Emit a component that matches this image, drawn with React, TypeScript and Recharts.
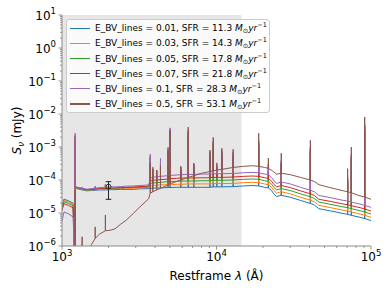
import React from 'react';
import { ComposedChart, Line, Scatter, ErrorBar, XAxis, YAxis, ReferenceArea } from 'recharts';

// rest-frame wavelength grid (Å) shared by every model spectrum
const waveGrid = [
  1000, 1030, 1100, 1180, 1210, 1216, 1225, 1260, 1350, 1450,
  1550, 1640, 1750, 1909, 2050, 2200, 2400, 2600, 2900, 3200,
  3640, 3727, 3869, 4101, 4340, 4861, 5007, 5500, 5876, 6563,
  7136, 8000, 9069, 9531, 10050, 10830, 12820, 15000, 17000, 18750,
  20500, 21660, 22800, 23500, 24500, 26250, 30000, 35000, 40500, 43000,
  46000, 55000, 65000, 70600, 74600, 85000, 91000, 100000,
];

// emission lines (Å), each one also a point of waveGrid
const lineWaves = [
  1216, 1350, 1640, 1909, 3727, 3869, 4101, 4340, 4861, 5007, 5876, 6563, 7136,
  9069, 9531, 10050, 10830, 12820, 18750, 21660, 26250, 40500, 70600, 74600, 91000,
];

// continuum flux (mJy) on waveGrid
const contBlue = [
  1.66e-5, 2.63e-5, 2.34e-5, 2.0e-5, 3e-7, 5.6e-5, 5.6e-5, 5.4e-5, 5.0e-5, 4.7e-5,
  4.8e-5, 4.9e-5, 5.0e-5, 5.0e-5, 5.1e-5, 5.1e-5, 5.2e-5, 5.2e-5, 5.2e-5, 5.4e-5,
  5.5e-5, 5.6e-5, 5.6e-5, 5.75e-5, 5.75e-5, 5.9e-5, 5.9e-5, 6.0e-5, 6.0e-5, 6.0e-5,
  6.0e-5, 6.0e-5, 6.0e-5, 6.2e-5, 6.2e-5, 6.2e-5, 6.3e-5, 6.6e-5, 6.8e-5, 6.6e-5,
  6.0e-5, 5.75e-5, 4.7e-5, 3.8e-5, 3.15e-5, 3.45e-5, 3.0e-5, 2.4e-5, 1.95e-5, 1.74e-5,
  1.35e-5, 1.15e-5, 9.8e-6, 9.1e-6, 8.5e-6, 7.4e-6, 6.8e-6, 5.9e-6,
];
const contOrange = [
  1.51e-5, 2.4e-5, 2.14e-5, 1.82e-5, 3e-7, 5.9e-5, 5.9e-5, 5.6e-5, 5.25e-5, 4.9e-5,
  5.0e-5, 5.1e-5, 5.25e-5, 5.25e-5, 5.4e-5, 5.4e-5, 5.5e-5, 5.6e-5, 5.6e-5, 5.75e-5,
  5.9e-5, 6.6e-5, 6.8e-5, 6.9e-5, 7.1e-5, 7.2e-5, 7.2e-5, 7.4e-5, 7.4e-5, 7.6e-5,
  7.6e-5, 7.6e-5, 7.6e-5, 7.8e-5, 7.8e-5, 7.8e-5, 7.9e-5, 8.3e-5, 8.5e-5, 8.3e-5,
  7.6e-5, 7.2e-5, 5.9e-5, 4.8e-5, 4.0e-5, 4.4e-5, 3.8e-5, 3.0e-5, 2.45e-5, 2.2e-5,
  1.7e-5, 1.45e-5, 1.23e-5, 1.15e-5, 1.07e-5, 9.3e-6, 8.5e-6, 7.4e-6,
];
const contGreen = [
  1.38e-5, 2.19e-5, 1.95e-5, 1.66e-5, 3e-7, 6.0e-5, 6.0e-5, 5.75e-5, 5.4e-5, 5.0e-5,
  5.1e-5, 5.25e-5, 5.5e-5, 5.5e-5, 5.6e-5, 5.6e-5, 5.75e-5, 5.9e-5, 5.9e-5, 6.0e-5,
  6.2e-5, 7.9e-5, 8.1e-5, 8.3e-5, 8.5e-5, 8.9e-5, 8.9e-5, 9.1e-5, 9.3e-5, 9.3e-5,
  9.3e-5, 9.5e-5, 9.5e-5, 9.8e-5, 9.8e-5, 9.8e-5, 1.0e-4, 1.05e-4, 1.07e-4, 1.05e-4,
  9.5e-5, 9.1e-5, 7.4e-5, 6.0e-5, 5.0e-5, 5.5e-5, 4.8e-5, 3.8e-5, 3.1e-5, 2.75e-5,
  2.15e-5, 1.82e-5, 1.55e-5, 1.45e-5, 1.35e-5, 1.17e-5, 1.07e-5, 9.3e-6,
];
const contRed = [
  1.2e-5, 1.91e-5, 1.7e-5, 1.45e-5, 3e-7, 6.2e-5, 6.2e-5, 5.9e-5, 5.5e-5, 5.1e-5,
  5.25e-5, 5.4e-5, 5.6e-5, 5.6e-5, 5.75e-5, 5.75e-5, 5.9e-5, 6.0e-5, 6.2e-5, 6.3e-5,
  6.5e-5, 9.3e-5, 9.8e-5, 1.0e-4, 1.02e-4, 1.07e-4, 1.1e-4, 1.12e-4, 1.15e-4, 1.15e-4,
  1.15e-4, 1.17e-4, 1.17e-4, 1.2e-4, 1.2e-4, 1.2e-4, 1.23e-4, 1.29e-4, 1.32e-4, 1.29e-4,
  1.17e-4, 1.12e-4, 9.1e-5, 7.4e-5, 6.2e-5, 6.8e-5, 5.9e-5, 4.7e-5, 3.8e-5, 3.4e-5,
  2.6e-5, 2.24e-5, 1.9e-5, 1.78e-5, 1.66e-5, 1.45e-5, 1.32e-5, 1.15e-5,
];
const contPurple = [
  5.6e-6, 1.07e-5, 9.5e-6, 7.6e-6, 3e-7, 6.3e-5, 6.3e-5, 6.0e-5, 5.6e-5, 5.25e-5,
  5.5e-5, 5.6e-5, 5.9e-5, 6.0e-5, 6.2e-5, 6.2e-5, 6.3e-5, 6.5e-5, 6.6e-5, 6.8e-5,
  7.1e-5, 1.15e-4, 1.2e-4, 1.26e-4, 1.29e-4, 1.35e-4, 1.38e-4, 1.41e-4, 1.45e-4, 1.48e-4,
  1.48e-4, 1.51e-4, 1.51e-4, 1.55e-4, 1.55e-4, 1.55e-4, 1.58e-4, 1.66e-4, 1.7e-4, 1.66e-4,
  1.51e-4, 1.45e-4, 1.17e-4, 9.5e-5, 7.9e-5, 8.7e-5, 7.6e-5, 6.0e-5, 4.9e-5, 4.4e-5,
  3.4e-5, 2.9e-5, 2.45e-5, 2.3e-5, 2.14e-5, 1.86e-5, 1.7e-5, 1.48e-5,
];
const contBrown = [
  1e-9, 1e-9, 1e-9, 1e-9, 1e-9, 1e-8, 1e-8, 3e-8, 1.5e-7, 4.5e-7,
  1.1e-6, 1.7e-6, 2.3e-6, 2.9e-6, 3.0e-6, 3.3e-6, 4.6e-6, 6.0e-6, 9.8e-6, 1.55e-5,
  2.7e-5, 4.0e-5, 4.4e-5, 5.0e-5, 5.6e-5, 7.0e-5, 7.6e-5, 9.0e-5, 1.0e-4, 1.2e-4,
  1.35e-4, 1.6e-4, 1.8e-4, 1.9e-4, 2.0e-4, 2.1e-4, 2.4e-4, 2.6e-4, 2.7e-4, 2.6e-4,
  2.4e-4, 2.25e-4, 1.95e-4, 1.75e-4, 1.5e-4, 1.6e-4, 1.45e-4, 1.2e-4, 1.0e-4, 9.0e-5,
  7.2e-5, 5.8e-5, 4.8e-5, 4.4e-5, 4.1e-5, 3.3e-5, 3.05e-5, 2.6e-5,
];

// line peak flux (mJy) on lineWaves
const peakBlue = [1.6e-3, 5.2e-5, 5.2e-5, 5.5e-5, 3.6e-4, 1.5e-4, 1.2e-4, 2.7e-4, 6.0e-4, 2.3e-3, 1.5e-4, 2.0e-3, 1.9e-4, 4.3e-4, 9.6e-4, 1.7e-4, 4.7e-4, 4.3e-4, 9.6e-4, 1.9e-4, 2.4e-4, 6.0e-4, 7.6e-5, 3.8e-4, 3.0e-3];
const peakOrange = [1.8e-3, 5.4e-5, 5.5e-5, 6.0e-5, 4.2e-4, 1.8e-4, 1.4e-4, 3.2e-4, 7.0e-4, 2.7e-3, 1.8e-4, 2.3e-3, 2.2e-4, 5.0e-4, 1.1e-3, 2.0e-4, 5.5e-4, 5.0e-4, 1.1e-3, 2.2e-4, 2.8e-4, 7.0e-4, 9.0e-5, 4.4e-4, 3.5e-3];
const peakGreen = [2.0e-3, 5.6e-5, 5.9e-5, 6.5e-5, 4.8e-4, 2.0e-4, 1.6e-4, 3.6e-4, 8.0e-4, 3.0e-3, 2.0e-4, 2.6e-3, 2.5e-4, 5.6e-4, 1.3e-3, 2.2e-4, 6.3e-4, 5.6e-4, 1.3e-3, 2.5e-4, 3.2e-4, 8.0e-4, 1.0e-4, 5.0e-4, 4.0e-3];
const peakRed = [2.2e-3, 5.9e-5, 6.2e-5, 7.0e-5, 5.3e-4, 2.2e-4, 1.8e-4, 4.0e-4, 8.9e-4, 3.4e-3, 2.2e-4, 2.9e-3, 2.8e-4, 6.3e-4, 1.4e-3, 2.5e-4, 7.0e-4, 6.3e-4, 1.4e-3, 2.8e-4, 3.5e-4, 8.9e-4, 1.1e-4, 5.6e-4, 4.5e-3];
const peakPurple = [2.6e-3, 6.0e-5, 6.5e-5, 7.5e-5, 6.0e-4, 2.5e-4, 2.0e-4, 4.5e-4, 1.0e-3, 3.8e-3, 2.5e-4, 3.3e-3, 3.2e-4, 7.1e-4, 1.6e-3, 2.8e-4, 7.9e-4, 7.1e-4, 1.6e-3, 3.2e-4, 4.0e-4, 1.0e-3, 1.26e-4, 6.3e-4, 5.0e-3];
const peakBrown = [5e-5, 1.9e-6, 3.8e-6, 8.7e-6, 3.2e-4, 2.2e-4, 2.0e-4, 2.8e-4, 7.9e-4, 3.2e-3, 2.6e-4, 4.0e-3, 3.2e-4, 8.1e-4, 1.95e-3, 3.3e-4, 9.1e-4, 8.5e-4, 2.6e-3, 4.6e-4, 6.5e-4, 1.6e-3, 2.2e-4, 1.0e-3, 8.1e-3];

const ebvValues = ['0.01', '0.03', '0.05', '0.07', '0.1', '0.5'];
const sfrValues = ['11.3', '14.3', '17.8', '21.8', '28.3', '53.1'];
const colors = ['#1f77b4', '#ff7f0e', '#2ca02c', '#d62728', '#9467bd', '#8c564b'];

// observed photometric point with asymmetric error [down, up]
const obsPoint = [{ x: 2000, y: 6.3e-5, err: [3.7e-5, 2.6e-5] }];

const xTicks = [1000, 2000, 3000, 4000, 5000, 6000, 7000, 8000, 9000, 10000, 20000, 30000, 40000, 50000, 60000, 70000, 80000, 90000, 100000];
const yTicks = [
  1e-6, 2e-6, 3e-6, 4e-6, 5e-6, 6e-6, 7e-6, 8e-6, 9e-6,
  1e-5, 2e-5, 3e-5, 4e-5, 5e-5, 6e-5, 7e-5, 8e-5, 9e-5,
  1e-4, 2e-4, 3e-4, 4e-4, 5e-4, 6e-4, 7e-4, 8e-4, 9e-4,
  1e-3, 2e-3, 3e-3, 4e-3, 5e-3, 6e-3, 7e-3, 8e-3, 9e-3,
  1e-2, 2e-2, 3e-2, 4e-2, 5e-2, 6e-2, 7e-2, 8e-2, 9e-2,
  1e-1, 2e-1, 3e-1, 4e-1, 5e-1, 6e-1, 7e-1, 8e-1, 9e-1,
  1, 2, 3, 4, 5, 6, 7, 8, 9, 10,
];

const FONT = 'DejaVu Sans';
const frameColor = '#8a8a8a';

function buildSpectrum(cont: number[], peaks: number[]) {
  const pts: { x: number; y: number }[] = [];
  waveGrid.forEach((w, i) => {
    pts.push({ x: w, y: cont[i] });
    const j = lineWaves.indexOf(w);
    if (j >= 0) {
      pts.push({ x: w, y: peaks[j] });
      pts.push({ x: w, y: cont[i] });
    }
  });
  return pts;
}

const spectra = [
  buildSpectrum(contBlue, peakBlue),
  buildSpectrum(contOrange, peakOrange),
  buildSpectrum(contGreen, peakGreen),
  buildSpectrum(contRed, peakRed),
  buildSpectrum(contPurple, peakPurple),
  buildSpectrum(contBrown, peakBrown),
];

const expOf = (v: number) => {
  const l = Math.log10(v);
  const e = Math.round(l);
  return { e, major: Math.abs(l - e) < 1e-6 };
};
const expText = (e: number) => (e < 0 ? '\u2212' + Math.abs(e) : String(e));

const XTick = (props: any) => {
  const { x, y, payload } = props;
  const { e, major } = expOf(payload.value);
  return (
    <g>
      <line x1={x} x2={x} y1={y} y2={y + (major ? 3.5 : 2)} stroke={frameColor} strokeWidth={0.9} />
      {major && (
        <text x={x} y={y + 15} textAnchor="middle" fontSize={12} fontFamily={FONT} fill="#000">
          <tspan>10</tspan>
          <tspan dy={-5.5} fontSize={8.5}>{expText(e)}</tspan>
        </text>
      )}
    </g>
  );
};

const YTick = (props: any) => {
  const { x, y, payload } = props;
  const { e, major } = expOf(payload.value);
  return (
    <g>
      <line x1={x - (major ? 3.5 : 2)} x2={x} y1={y} y2={y} stroke={frameColor} strokeWidth={0.9} />
      {major && (
        <text x={x - 6} y={y + 4.5} textAnchor="end" fontSize={12} fontFamily={FONT} fill="#000">
          <tspan>10</tspan>
          <tspan dy={-5.5} fontSize={8.5}>{expText(e)}</tspan>
        </text>
      )}
    </g>
  );
};

const Marker = (props: any) => (
  <circle cx={props.cx} cy={props.cy} r={2.4} fill="none" stroke="#333" strokeWidth={1} />
);

const LegendBox = () => (
  <div
    style={{
      position: 'absolute',
      left: 66,
      top: 19,
      width: 204,
      height: 94,
      boxSizing: 'border-box',
      background: 'rgba(255,255,255,0.8)',
      border: '1px solid #cccccc',
      borderRadius: 3,
      fontFamily: FONT,
      fontSize: 9,
      color: '#000',
    }}
  >
    {ebvValues.map((ebv, i) => {
      const cy = 8.3 + i * 15.1;
      return (
        <div key={ebv}>
          <div style={{ position: 'absolute', left: 3, top: cy - 0.75, width: 20, height: 1.5, background: colors[i] }} />
          <div style={{ position: 'absolute', left: 28, top: cy - 7, height: 14, lineHeight: '14px', whiteSpace: 'nowrap' }}>
            {`E_BV_lines = ${ebv}, SFR = ${sfrValues[i]} `}
            <i>M</i>
            <span style={{ fontSize: 6.5, position: 'relative', top: 2 }}>⊙</span>
            <i>yr</i>
            <span style={{ fontSize: 6.5, position: 'relative', top: -4 }}>−1</span>
          </div>
        </div>
      );
    })}
  </div>
);

export default function App() {
  return (
    <div style={{ position: 'absolute', left: 0, top: 0, width: 392, height: 294, background: '#fff' }}>
      <ComposedChart width={392} height={294} margin={{ top: 15, right: 21, bottom: 0, left: 0 }}>
        <XAxis
          dataKey="x"
          type="number"
          scale="log"
          domain={[1000, 100000]}
          allowDataOverflow
          ticks={xTicks}
          interval={0}
          tick={<XTick />}
          tickLine={false}
          tickSize={0}
          tickMargin={0}
          height={48}
          axisLine={{ stroke: frameColor, strokeWidth: 1 }}
          label={{
            content: () => (
              <text x={216.5} y={280} textAnchor="middle" fontSize={12} fontFamily={FONT} fill="#000">
                Restframe <tspan fontStyle="italic">λ</tspan> (Å)
              </text>
            ),
          }}
        />
        <XAxis xAxisId="top" orientation="top" type="number" domain={[0, 1]} height={0} tick={false} tickLine={false} axisLine={{ stroke: frameColor, strokeWidth: 1 }} />
        <YAxis
          type="number"
          scale="log"
          domain={[1e-6, 10]}
          allowDataOverflow
          ticks={yTicks}
          interval={0}
          tick={<YTick />}
          tickLine={false}
          tickSize={0}
          tickMargin={0}
          width={62}
          axisLine={{ stroke: frameColor, strokeWidth: 1 }}
          label={{
            content: () => (
              <text transform="translate(21,130.5) rotate(-90)" textAnchor="middle" fontSize={12} fontFamily={FONT} fill="#000">
                <tspan fontStyle="italic">S</tspan>
                <tspan dy={3} fontSize={8.5} fontStyle="italic">ν</tspan>
                <tspan dy={-3}> (mJy)</tspan>
              </text>
            ),
          }}
        />
        <YAxis yAxisId="right" orientation="right" type="number" domain={[0, 1]} width={0} tick={false} tickLine={false} axisLine={{ stroke: frameColor, strokeWidth: 1 }} />
        <ReferenceArea x1={1000} x2={14500} y1={1e-6} y2={10} fill="#e6e6e6" fillOpacity={1} stroke="none" ifOverflow="hidden" />
        {spectra.map((pts, i) => (
          <Line
            key={ebvValues[i]}
            data={pts}
            dataKey="y"
            stroke={colors[i]}
            strokeWidth={1}
            dot={false}
            activeDot={false}
            isAnimationActive={false}
          />
        ))}
        <Scatter data={obsPoint} dataKey="y" shape={<Marker />} isAnimationActive={false}>
          <ErrorBar dataKey="err" direction="y" width={2.8} stroke="#222" strokeWidth={1} isAnimationActive={false} />
        </Scatter>
      </ComposedChart>
      <LegendBox />
    </div>
  );
}
